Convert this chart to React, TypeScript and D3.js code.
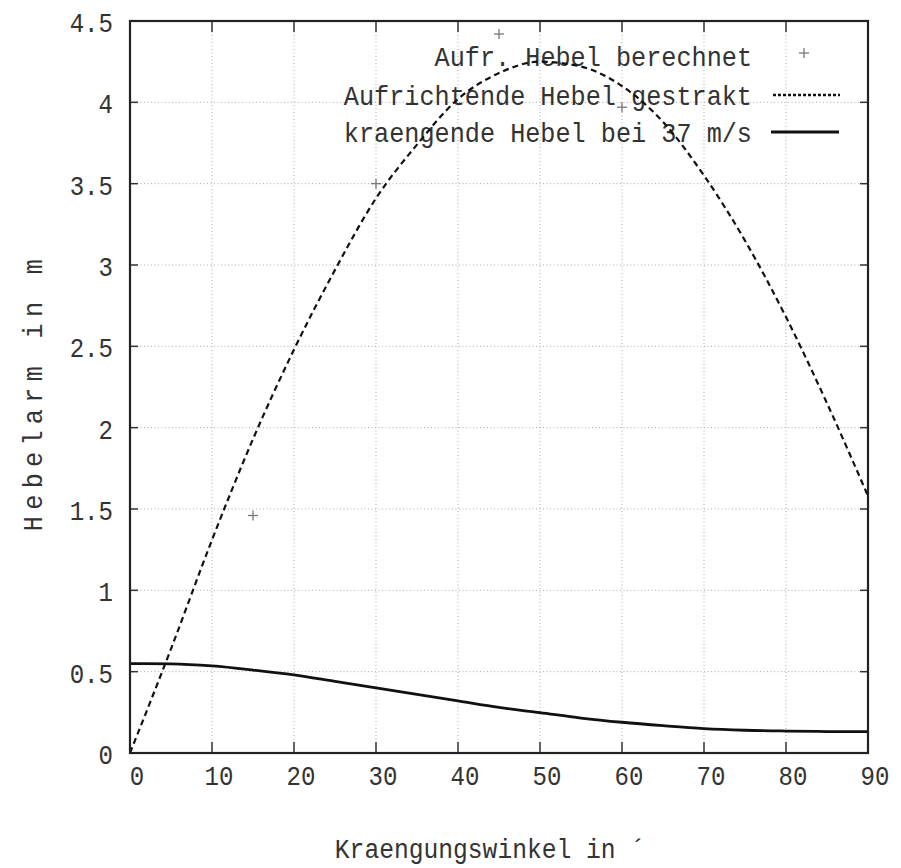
import React from "react";
import * as d3 from "d3";

const angles = [0, 5, 10, 15, 20, 25, 30, 35, 40, 45, 50, 55, 60, 65, 70, 75, 80, 85, 90];
const righting = [0, 0.64, 1.31, 1.93, 2.48, 2.97, 3.41, 3.74, 4.02, 4.18, 4.25, 4.22, 4.1, 3.88, 3.55, 3.15, 2.68, 2.15, 1.58];
const heeling = [0.55, 0.548, 0.535, 0.51, 0.48, 0.44, 0.4, 0.36, 0.32, 0.28, 0.248, 0.215, 0.189, 0.168, 0.15, 0.14, 0.135, 0.132, 0.131];
const calcAngles = [15, 30, 45, 60];
const calcValues = [1.46, 3.5, 4.42, 3.97];
const xTicks = [0, 10, 20, 30, 40, 50, 60, 70, 80, 90];
const yTicks = [0, 0.5, 1, 1.5, 2, 2.5, 3, 3.5, 4, 4.5];
const legendLabels = ["Aufr. Hebel berechnet", "Aufrichtende Hebel gestrakt", "kraengende Hebel bei 37 m/s"];
const xLabel = "Kraengungswinkel in ´";
const yLabel = "Hebelarm in m";

const FONT = "'Liberation Mono', 'DejaVu Sans Mono', monospace";
const FS = 28;

function T({ x, y, anchor = "start", children, rotate = 0, fill = "#333", sx = 0.86, ls = 0 }: any) {
  return (
    <text
      transform={`translate(${x},${y}) rotate(${rotate}) scale(${sx},1)`}
      textAnchor={anchor}
      fontFamily={FONT}
      fontSize={FS}
      fill={fill}
      letterSpacing={ls}
    >
      {children}
    </text>
  );
}

export default function App() {
  const W = 901, H = 868;
  const L = 130, R = 868, TOP = 21, B = 753;
  const x = d3.scaleLinear().domain([0, 90]).range([L, R]);
  const y = d3.scaleLinear().domain([0, 4.5]).range([B, TOP]);
  const line = d3.line<number>().x((_, i) => x(angles[i])).y((d) => y(d)).curve(d3.curveMonotoneX);
  const rightPath = line(righting) || "";
  const heelPath = line(heeling) || "";
  const tickLen = 9;

  const plus = (cx: number, cy: number, s: number, key: any) => (
    <g key={key} stroke="#777" strokeWidth={1.3}>
      <line x1={cx - s} x2={cx + s} y1={cy} y2={cy} />
      <line x1={cx} x2={cx} y1={cy - s} y2={cy + s} />
    </g>
  );

  const legY = [56, 95, 132];
  const legEnd = 752;

  return (
    <svg width={W} height={H} style={{ position: "absolute", left: 0, top: 0, background: "#fff" }}>
      <rect x={0} y={0} width={W} height={H} fill="#fff" />
      {/* grid */}
      <g stroke="#aaa" strokeWidth={1} strokeDasharray="1,2.5">
        {xTicks.slice(1, -1).map((t) => (
          <line key={"gx" + t} x1={x(t)} x2={x(t)} y1={TOP} y2={B} />
        ))}
        {yTicks.slice(1, -1).map((t) => (
          <line key={"gy" + t} x1={L} x2={R} y1={y(t)} y2={y(t)} />
        ))}
      </g>
      {/* ticks */}
      <g stroke="#333" strokeWidth={1.5}>
        {xTicks.map((t) => (
          <g key={"tx" + t}>
            <line x1={x(t)} x2={x(t)} y1={B} y2={B - tickLen - 2} />
            <line x1={x(t)} x2={x(t)} y1={TOP} y2={TOP + tickLen + 2} />
          </g>
        ))}
        {yTicks.map((t) => (
          <g key={"ty" + t}>
            <line x1={L} x2={L + tickLen - 1} y1={y(t)} y2={y(t)} />
            <line x1={R} x2={R - tickLen + 1} y1={y(t)} y2={y(t)} />
          </g>
        ))}
      </g>
      {/* tick labels */}
      {xTicks.map((t) => (
        <T key={"lx" + t} x={x(t) + 7} y={785} anchor="middle">{String(t)}</T>
      ))}
      {yTicks.map((t) => (
        <T key={"ly" + t} x={113} y={y(t) + 11} anchor="end">{String(t)}</T>
      ))}
      {/* axis titles */}
      <T x={490} y={858} anchor="middle" sx={0.88}>{xLabel}</T>
      <T x={42} y={392} anchor="middle" rotate={-90} sx={0.9} ls={7}>{yLabel}</T>
      {/* legend */}
      <T x={legEnd} y={legY[0] + 10} anchor="end" sx={0.9}>{legendLabels[0]}</T>
      <T x={legEnd} y={legY[1] + 10} anchor="end" sx={0.9}>{legendLabels[1]}</T>
      <T x={legEnd} y={legY[2] + 10} anchor="end" sx={0.9}>{legendLabels[2]}</T>
      {plus(804, legY[0] - 3, 5, "legp")}
      <line x1={773} x2={840} y1={legY[1]} y2={legY[1]} stroke="#111" strokeWidth={2.4} strokeDasharray="3,2" />
      <line x1={771} x2={839} y1={legY[2]} y2={legY[2]} stroke="#111" strokeWidth={2.8} />
      {/* curves */}
      <path d={rightPath} fill="none" stroke="#111" strokeWidth={2.2} strokeDasharray="6,4" />
      <path d={heelPath} fill="none" stroke="#111" strokeWidth={2.8} />
      {calcAngles.map((a, i) => plus(x(a), y(calcValues[i]), 5, "p" + i))}
      {/* frame */}
      <rect x={L} y={TOP} width={R - L} height={B - TOP} fill="none" stroke="#222" strokeWidth={2.2} />
    </svg>
  );
}
